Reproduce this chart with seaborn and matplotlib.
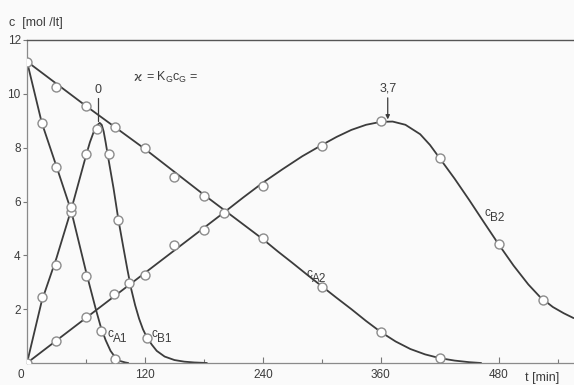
import matplotlib
matplotlib.use("Agg")
import matplotlib.pyplot as plt
import matplotlib.transforms as mtransforms
from matplotlib.ticker import MultipleLocator
import pandas as pd
import seaborn as sns

# ---- measured concentrations (circles) ----
a1_t = [0, 15, 30, 45, 60, 75, 90]
a1_c = [11.2, 8.93, 7.3, 5.6, 3.25, 1.2, 0.14]

b1_t = [15, 30, 45, 60, 71, 83, 93, 122]
b1_c = [2.44, 3.65, 5.8, 7.77, 8.68, 7.76, 5.32, 0.92]

a2_t = [30, 60, 90, 120, 150, 180, 240, 300, 360, 420]
a2_c = [10.25, 9.55, 8.75, 8.0, 6.9, 6.2, 4.65, 2.83, 1.14, 0.2]

b2_t = [0, 30, 60, 89, 104, 120, 150, 180, 200, 240, 300, 360, 420, 480, 525]
b2_c = [0.0, 0.83, 1.72, 2.57, 2.98, 3.27, 4.4, 4.95, 5.58, 6.58, 8.05, 8.98, 7.62, 4.42, 2.34]

# ---- calculated curves ----
a1_curve_t = [0, 15, 30, 45, 60, 65, 70, 75, 80, 85, 90, 95, 100, 103]
a1_curve_c = [11.2, 8.93, 7.3, 5.65, 3.4, 2.7, 2.0, 1.35, 0.85, 0.45, 0.2, 0.07, 0.02, 0.0]

b1_curve_t = [0, 15, 30, 45, 60, 64, 68, 71, 74, 76, 78, 80, 83, 88, 93, 98, 102, 106,
              110, 114, 118, 122, 127, 132, 140, 150, 160, 170, 183]
b1_curve_c = [0.0, 2.3, 3.9, 5.7, 7.7, 8.2, 8.6, 8.82, 8.92, 8.85, 8.6, 8.2, 7.55, 6.5,
              5.32, 4.3, 3.5, 2.75, 2.15, 1.65, 1.25, 0.95, 0.68, 0.45, 0.24, 0.11, 0.05,
              0.02, 0.0]

a2_curve_t = [0, 60, 120, 180, 240, 255, 270, 285, 300, 315, 330, 345, 360, 375, 390,
              405, 420, 435, 450, 462]
a2_curve_c = [11.2, 9.55, 7.95, 6.25, 4.6, 4.15, 3.72, 3.28, 2.85, 2.42, 2.0, 1.56, 1.15,
              0.8, 0.52, 0.32, 0.18, 0.09, 0.03, 0.0]

b2_curve_t = [0, 200, 220, 240, 260, 280, 300, 315, 330, 345, 360, 372, 385, 400, 410,
              420, 435, 450, 465, 480, 495, 510, 522, 535, 546, 556]
b2_curve_c = [0.0, 5.58, 6.15, 6.7, 7.2, 7.68, 8.1, 8.4, 8.66, 8.85, 8.96, 8.97, 8.85,
              8.5, 8.1, 7.6, 6.85, 6.05, 5.22, 4.4, 3.62, 2.92, 2.45, 2.08, 1.85, 1.67]

# ---- axis ticks ----
x_ticks = [0, 120, 240, 360, 480]
x_tick_labels = ["0", "120", "240", "360", "480"]
y_ticks = [2, 4, 6, 8, 10, 12]
y_tick_labels = ["2", "4", "6", "8", "10", "12"]

curves = pd.concat([
    pd.DataFrame({"t": a1_curve_t, "c": a1_curve_c, "series": "A1"}),
    pd.DataFrame({"t": b1_curve_t, "c": b1_curve_c, "series": "B1"}),
    pd.DataFrame({"t": a2_curve_t, "c": a2_curve_c, "series": "A2"}),
    pd.DataFrame({"t": b2_curve_t, "c": b2_curve_c, "series": "B2"}),
], ignore_index=True)

points = pd.concat([
    pd.DataFrame({"t": a1_t, "c": a1_c, "series": "A1"}),
    pd.DataFrame({"t": b1_t, "c": b1_c, "series": "B1"}),
    pd.DataFrame({"t": a2_t, "c": a2_c, "series": "A2"}),
    pd.DataFrame({"t": b2_t, "c": b2_c, "series": "B2"}),
], ignore_index=True)

sns.set_theme(style="white")
plt.rcParams["font.family"] = ["Liberation Sans", "DejaVu Sans"]

ink = "#3c3c3c"
ring = "#8c8c8c"
paper = "#fafafa"

fig = plt.figure(figsize=(5.74, 3.85), dpi=100, facecolor=paper)
ax = fig.add_axes([27 / 574, 22 / 385, 547 / 574, 323 / 385])
ax.set_facecolor(paper)

sns.lineplot(data=curves, x="t", y="c", units="series", estimator=None,
             sort=False, color=ink, linewidth=1.3, ax=ax, legend=False)
sns.scatterplot(data=points, x="t", y="c", marker="o", s=42,
                facecolor="white", edgecolor=ring, linewidth=1.0,
                ax=ax, legend=False, zorder=5)

ax.set_xlim(0, 556.5)
ax.set_ylim(0, 12)
ax.set_xlabel("")
ax.set_ylabel("")

ax.set_xticks(x_ticks)
ax.set_xticklabels(x_tick_labels)
ax.xaxis.set_minor_locator(MultipleLocator(60))
ax.set_yticks(y_ticks)
ax.set_yticklabels(y_tick_labels)

ax.tick_params(axis="x", which="both", direction="in", length=4, width=0.8,
               color="#777777", labelsize=8.5, labelcolor=ink, pad=4, bottom=True)
ax.tick_params(axis="x", which="minor", length=3)
ax.tick_params(axis="y", direction="out", length=3, width=0.8,
               color="#777777", labelsize=8.5, labelcolor=ink, pad=1.5, left=True)

# origin label sits to the lower left of the corner
shift = mtransforms.ScaledTranslation(-6 / 100, 0, fig.dpi_scale_trans)
first = ax.get_xticklabels()[0]
first.set_transform(first.get_transform() + shift)

for side in ["left", "bottom"]:
    ax.spines[side].set_color("#8a8a8a")
    ax.spines[side].set_linewidth(0.9)
ax.spines["top"].set_color("#555555")
ax.spines["top"].set_linewidth(1.0)
ax.spines["right"].set_visible(False)


def conc_label(t, c, sub):
    """Curve label: small raised 'c' followed by a lowered index."""
    ax.text(t, c, "c", ha="left", va="center", color=ink, fontsize=8.5,
            transform=ax.transData + mtransforms.ScaledTranslation(0, 2 / 100, fig.dpi_scale_trans))
    ax.text(t, c, sub, ha="left", va="center", color=ink, fontsize=8.5,
            transform=ax.transData + mtransforms.ScaledTranslation(5.5 / 100, -3 / 100, fig.dpi_scale_trans))


conc_label(81.5, 1.0, "A1")
conc_label(127, 1.0, "B1")
conc_label(284, 3.25, "A2")
conc_label(465, 5.5, "B2")

lab = dict(color=ink, fontsize=9)
# peak markers
ax.text(72.5, 10.15, "0", ha="center", va="center", **lab)
ax.plot([72.5, 72.5], [9.85, 9.0], color=ink, linewidth=0.9)
ax.text(367, 10.2, "3,7", ha="center", va="center", **lab)
ax.annotate("", xy=(367, 9.05), xytext=(367, 9.85),
            arrowprops=dict(arrowstyle="-|>", color=ink, lw=0.9,
                            mutation_scale=6, shrinkA=0, shrinkB=0))

ax.text(108, 10.6, "ϰ", ha="left", va="center", color=ink, fontsize=9,
        family=["DejaVu Sans"])
ax.text(121, 10.6, r"= $\mathregular{K_Gc_G}$ =", ha="left", va="center", **lab)

fig.text(9 / 574, 1 - 23 / 385, "c  [mol /lt]", ha="left", va="center",
         color=ink, fontsize=9)
fig.text(525 / 574, 7 / 385, "t [min]", ha="left", va="center",
         color=ink, fontsize=9)

fig.savefig("out.png", dpi=100, facecolor=paper)
